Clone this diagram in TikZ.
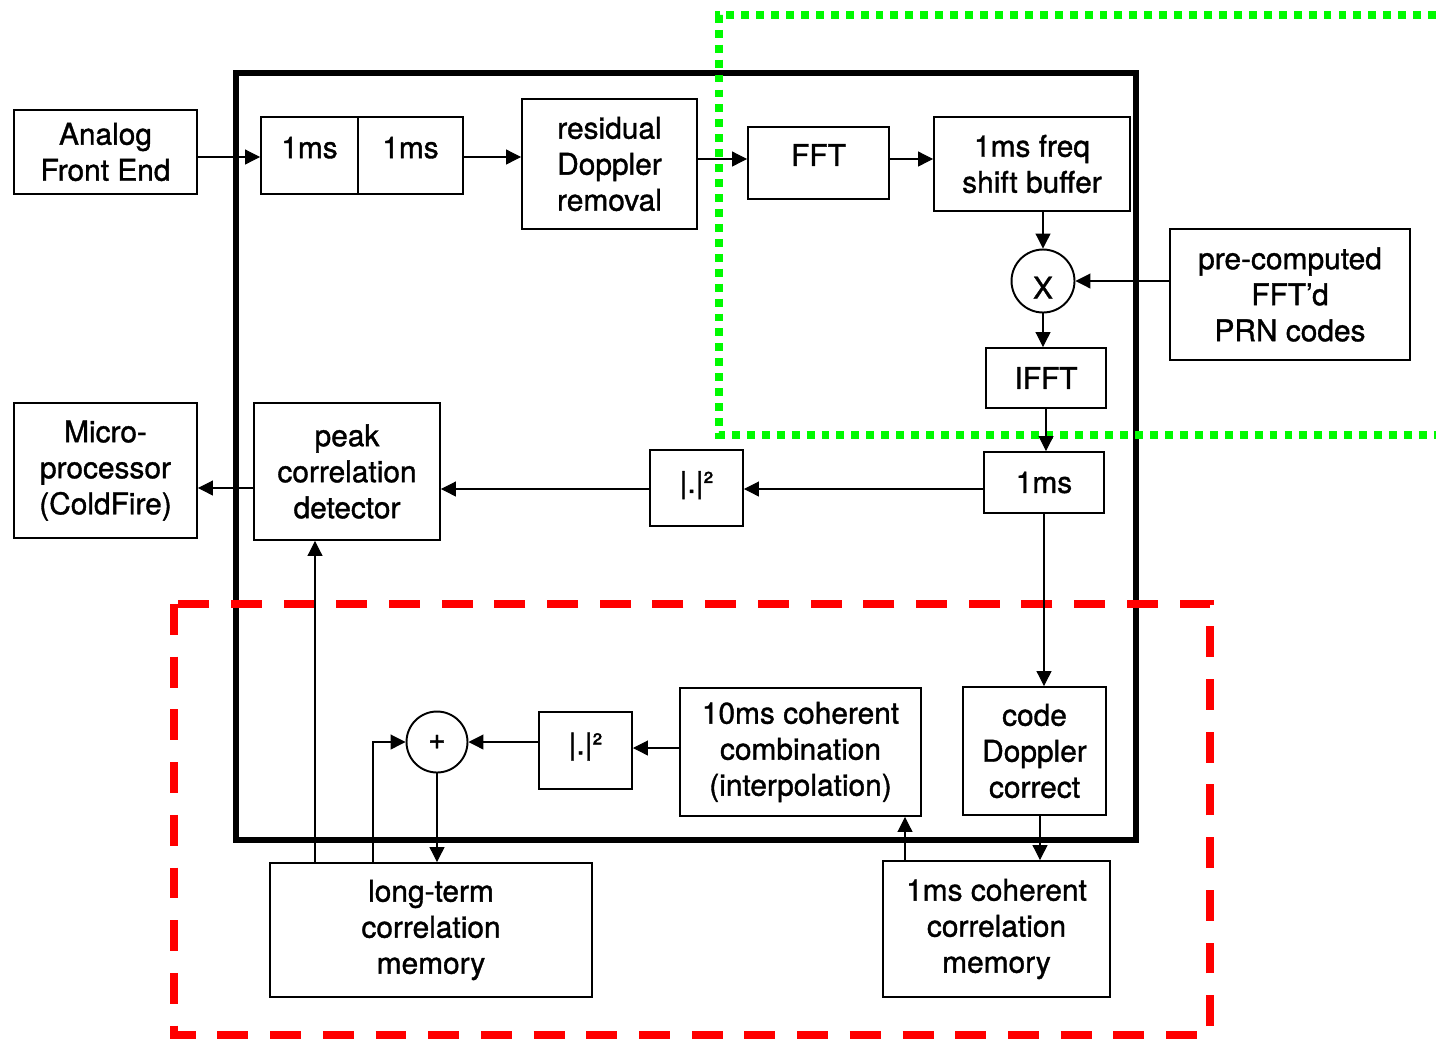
\documentclass[tikz,border=0pt]{standalone}
\usepackage{fontspec}
\setmainfont{TeX Gyre Heros}[FakeBold=1.2]
\usetikzlibrary{arrows.meta}
\definecolor{grn}{RGB}{0,250,0}
\definecolor{rd}{RGB}{255,0,0}
\begin{document}
\begin{tikzpicture}[x=0.02cm,y=-0.02cm,
  blk/.style={draw, line width=1.1pt, align=center, inner sep=0pt, font=\fontsize{17pt}{20.5pt}\selectfont},
  circ/.style={draw, circle, line width=1.1pt, inner sep=0pt, minimum size=1.26cm, font=\fontsize{17pt}{20.5pt}\selectfont},
  conn/.style={line width=0.6pt, -{Triangle[length=8.5pt,width=8.5pt]}},
  frameline/.style={line width=3.4pt},
  greenline/.style={draw=grn, line width=4.5pt, dash pattern=on 4.5pt off 4pt},
  redline/.style={draw=rd, line width=4.5pt, dash pattern=on 17.6pt off 12.4pt}
]
\useasboundingbox (0,0) rectangle (1436,1039);
% frames
\draw[frameline] (236,73) rectangle (1136,840);
\draw[greenline] (1436,15) -- (719,15) -- (719,435) -- (1436,435);
\draw[redline] (174,604) rectangle (1210,1035);
% blocks
\node[blk, minimum width=3.66cm, minimum height=1.68cm] (afe) at (105.5,152) {Analog\\Front End};
\node[blk, minimum width=1.94cm, minimum height=1.54cm, text depth=0.32cm] (buf1) at (309.5,155.5) {1ms};
\node[blk, minimum width=2.10cm, minimum height=1.54cm, text depth=0.32cm] (buf2) at (410.5,155.5) {1ms};
\node[blk, minimum width=3.5cm, minimum height=2.6cm] (resid) at (609.5,164) {residual\\Doppler\\removal};
\node[blk, minimum width=2.82cm, minimum height=1.44cm, text depth=0.32cm] (fft) at (818.5,163) {FFT};
\node[blk, minimum width=3.92cm, minimum height=1.88cm] (fsb) at (1032,164) {1ms freq\\shift buffer};
\node[circ, text height=0.7cm] (mult) at (1043,281) {X};
\node[blk, minimum width=4.8cm, minimum height=2.62cm] (prn) at (1290,294.5) {pre-computed\\FFT’d\\PRN codes};
\node[blk, minimum width=2.4cm, minimum height=1.2cm] (ifft) at (1046,378) {IFFT};
\node[blk, minimum width=2.4cm, minimum height=1.22cm] (ms) at (1044,482.5) {1ms};
\node[blk, minimum width=1.86cm, minimum height=1.52cm, text depth=0.24cm] (abs1) at (696.5,488) {|.|²};
\node[blk, minimum width=3.72cm, minimum height=2.74cm] (peak) at (347,471.5) {peak\\correlation\\detector};
\node[blk, minimum width=3.66cm, minimum height=2.70cm] (micro) at (105.5,470.5) {Micro-\\processor\\(ColdFire)};
\node[blk, minimum width=2.86cm, minimum height=2.56cm] (cdc) at (1034.5,751) {code\\Doppler\\correct};
\node[blk, minimum width=4.82cm, minimum height=2.56cm] (comb) at (800.5,752) {10ms coherent\\combination\\(interpolation)};
\node[blk, minimum width=1.86cm, minimum height=1.54cm, text depth=0.28cm] (abs2) at (585.5,750.5) {|.|²};
\node[circ, minimum size=1.22cm] (plus) at (437,742) {+};
\node[blk, minimum width=6.44cm, minimum height=2.68cm] (ltm) at (431,930) {long-term\\correlation\\memory};
\node[blk, minimum width=4.54cm, minimum height=2.72cm] (ccm) at (996.5,929) {1ms coherent\\correlation\\memory};
% connectors
\draw[conn] (afe.east |- 0,157) -- (buf1.west |- 0,157);
\draw[conn] (buf2.east |- 0,157) -- (resid.west |- 0,157);
\draw[conn] (resid.east |- 0,159) -- (fft.west |- 0,159);
\draw[conn] (fft.east |- 0,159) -- (fsb.west |- 0,159);
\draw[conn] (fsb.south -| mult.north) -- (mult.north);
\draw[conn] (prn.west |- mult.east) -- (mult.east);
\draw[conn] (mult.south) -- (mult.south |- ifft.north);
\draw[conn] (ifft.south) -- (ifft.south |- ms.north);
\draw[conn] (ms.west |- 0,489) -- (abs1.east |- 0,489);
\draw[conn] (abs1.west |- 0,489) -- (peak.east |- 0,489);
\draw[conn] (peak.west |- 0,488) -- (micro.east |- 0,488);
\draw[conn] (ms.south) -- (ms.south |- cdc.north);
\draw[conn] (cdc.south -| 1040,0) -- (ccm.north -| 1040,0);
\draw[conn] (ccm.north -| 905,0) -- (comb.south -| 905,0);
\draw[conn] (comb.west |- 0,748) -- (abs2.east |- 0,748);
\draw[conn] (abs2.west |- plus.east) -- (plus.east);
\draw[conn] (ltm.north -| 373,0) |- (plus.west);
\draw[conn] (plus.south) -- (plus.south |- ltm.north);
\draw[conn] (ltm.north -| 315,0) -- (peak.south -| 315,0);
\end{tikzpicture}
\end{document}
